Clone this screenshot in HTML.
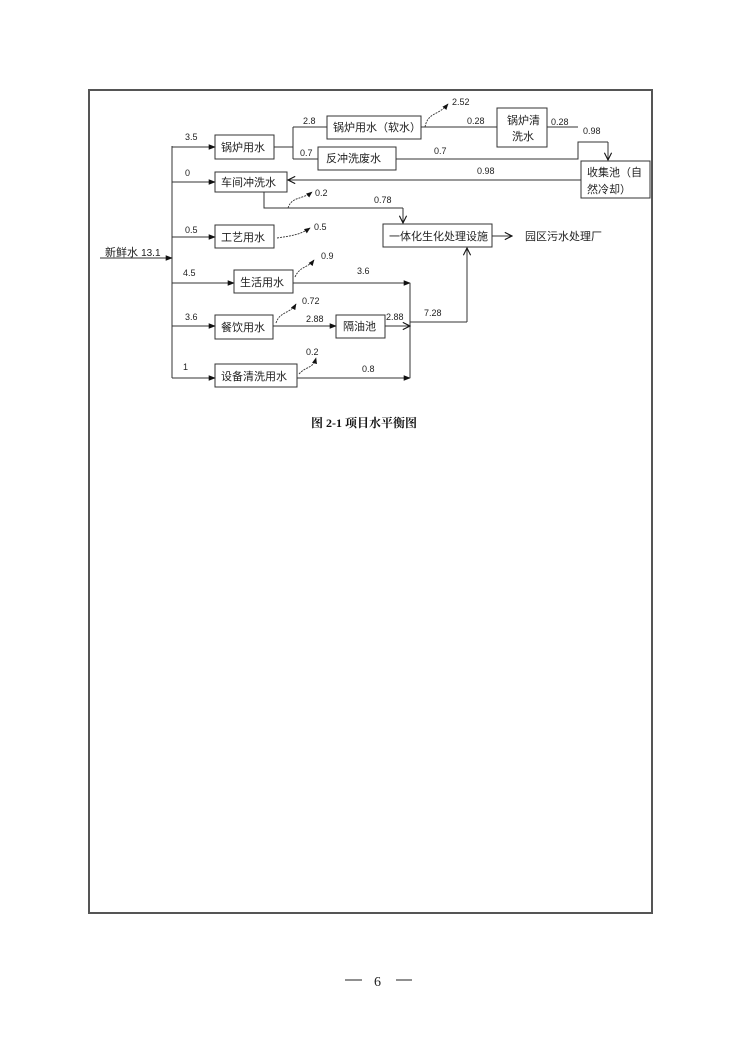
<!DOCTYPE html>
<html><head><meta charset="utf-8"><style>
html,body{margin:0;padding:0;background:#fff;}
svg{display:block;}
.t{font-family:"Liberation Sans","Noto Sans CJK SC",sans-serif;font-size:11px;fill:#222;}
.n{font-family:"Liberation Sans",sans-serif;font-size:9px;fill:#222;}
</style></head><body>
<svg width="740" height="1047" viewBox="0 0 740 1047" xmlns="http://www.w3.org/2000/svg">
<defs>
<marker id="a" viewBox="0 0 10 10" refX="9" refY="5" markerWidth="7" markerHeight="7" orient="auto"><path d="M0,1 L10,5 L0,9 z" fill="#111"/></marker>
<marker id="o" viewBox="0 0 10 10" refX="9" refY="5" markerWidth="9" markerHeight="9" orient="auto"><path d="M1,1 L9,5 L1,9" fill="none" stroke="#111" stroke-width="1.2"/></marker>
</defs>
<rect x="89" y="90" width="563" height="823" fill="none" stroke="#555" stroke-width="2"/>
<g stroke="#333" stroke-width="1" fill="none">
<!-- boxes -->
<rect x="215" y="135" width="59" height="24"/>
<rect x="215" y="172" width="72" height="20"/>
<rect x="215" y="225" width="59" height="23"/>
<rect x="327" y="116" width="94" height="23"/>
<rect x="318" y="147" width="78" height="23"/>
<rect x="497" y="108" width="50" height="39"/>
<rect x="581" y="161" width="69" height="37"/>
<rect x="383" y="224" width="109" height="23"/>
<rect x="234" y="270" width="59" height="23"/>
<rect x="215" y="315" width="58" height="24"/>
<rect x="336" y="315" width="49" height="23"/>
<rect x="215" y="364" width="82" height="23"/>
<!-- trunk -->
<path d="M172,146 V378"/>
<path d="M100,258 H172" marker-end="url(#a)"/>
<path d="M172,147 H215" marker-end="url(#a)"/>
<path d="M172,182 H215" marker-end="url(#a)"/>
<path d="M172,237 H215" marker-end="url(#a)"/>
<path d="M172,283 H234" marker-end="url(#a)"/>
<path d="M172,326 H215" marker-end="url(#a)"/>
<path d="M172,378 H215" marker-end="url(#a)"/>
<!-- boiler split -->
<path d="M274,147 H293 M293,127 V159 M293,127 H327 M293,159 H318"/>
<path d="M421,127 H497 M547,127 H578 M396,159 H578 V142 H608"/>
<path d="M608,142 V160" marker-end="url(#o)"/>
<path d="M581,180 H288" marker-end="url(#o)"/>
<path d="M264,192 V208 H403"/>
<path d="M403,208 V223" marker-end="url(#o)"/>
<path d="M492,236 H512" marker-end="url(#o)"/>
<!-- lower -->
<path d="M293,283 H410" marker-end="url(#a)"/>
<path d="M273,326 H336" marker-end="url(#a)"/>
<path d="M385,326 H410" marker-end="url(#o)"/>
<path d="M297,378 H410" marker-end="url(#a)"/>
<path d="M410,283 V378 M410,322 H467"/>
<path d="M467,322 V248" marker-end="url(#o)"/>
</g>
<!-- wavy loss arrows -->
<g stroke="#333" stroke-width="0.9" fill="none" stroke-dasharray="2,1">
<path d="M425,127 C428,112 438,116 448,104" marker-end="url(#a)"/>
<path d="M288,208 C292,196 302,200 312,192" marker-end="url(#a)"/>
<path d="M277,238 C290,236 300,235 310,228" marker-end="url(#a)"/>
<path d="M295,277 C300,266 308,268 314,260" marker-end="url(#a)"/>
<path d="M276,323 C280,311 290,314 296,304" marker-end="url(#a)"/>
<path d="M299,374 C306,366 313,369 316,358" marker-end="url(#a)"/>
</g>
<!-- box text -->
<g class="t">
<text x="221" y="151">锅炉用水</text>
<text x="221" y="186">车间冲洗水</text>
<text x="221" y="241">工艺用水</text>
<text x="333" y="131">锅炉用水（软水）</text>
<text x="326" y="162">反冲洗废水</text>
<text x="507" y="124">锅炉清</text>
<text x="512" y="140">洗水</text>
<text x="587" y="176">收集池（自</text>
<text x="587" y="193">然冷却）</text>
<text x="389" y="240">一体化生化处理设施</text>
<text x="525" y="240">园区污水处理厂</text>
<text x="240" y="286">生活用水</text>
<text x="221" y="331">餐饮用水</text>
<text x="343" y="330">隔油池</text>
<text x="221" y="380">设备清洗用水</text>
<text x="105" y="256">新鲜水 <tspan class="n" style="font-size:10px">13.1</tspan></text>
</g>
<g class="n">
<text x="185" y="140">3.5</text>
<text x="185" y="176">0</text>
<text x="185" y="233">0.5</text>
<text x="183" y="276">4.5</text>
<text x="185" y="320">3.6</text>
<text x="183" y="370">1</text>
<text x="303" y="124">2.8</text>
<text x="300" y="156">0.7</text>
<text x="452" y="105">2.52</text>
<text x="467" y="124">0.28</text>
<text x="551" y="125">0.28</text>
<text x="583" y="134">0.98</text>
<text x="434" y="154">0.7</text>
<text x="477" y="174">0.98</text>
<text x="315" y="196">0.2</text>
<text x="374" y="203">0.78</text>
<text x="314" y="230">0.5</text>
<text x="321" y="259">0.9</text>
<text x="357" y="274">3.6</text>
<text x="302" y="304">0.72</text>
<text x="306" y="322">2.88</text>
<text x="386" y="320">2.88</text>
<text x="424" y="316">7.28</text>
<text x="306" y="355">0.2</text>
<text x="362" y="372">0.8</text>
</g>
<text x="311" y="427" style="font-family:'Liberation Serif','Noto Serif CJK SC',serif;font-size:12px;font-weight:bold;fill:#111">图 2-1  项目水平衡图</text>
<line x1="345" y1="980" x2="362" y2="980" stroke="#222" stroke-width="1"/>
<line x1="396" y1="980" x2="412" y2="980" stroke="#222" stroke-width="1"/>
<text x="374" y="986" style="font-family:'Liberation Serif',serif;font-size:14px;fill:#222">6</text>
</svg>
</body></html>
